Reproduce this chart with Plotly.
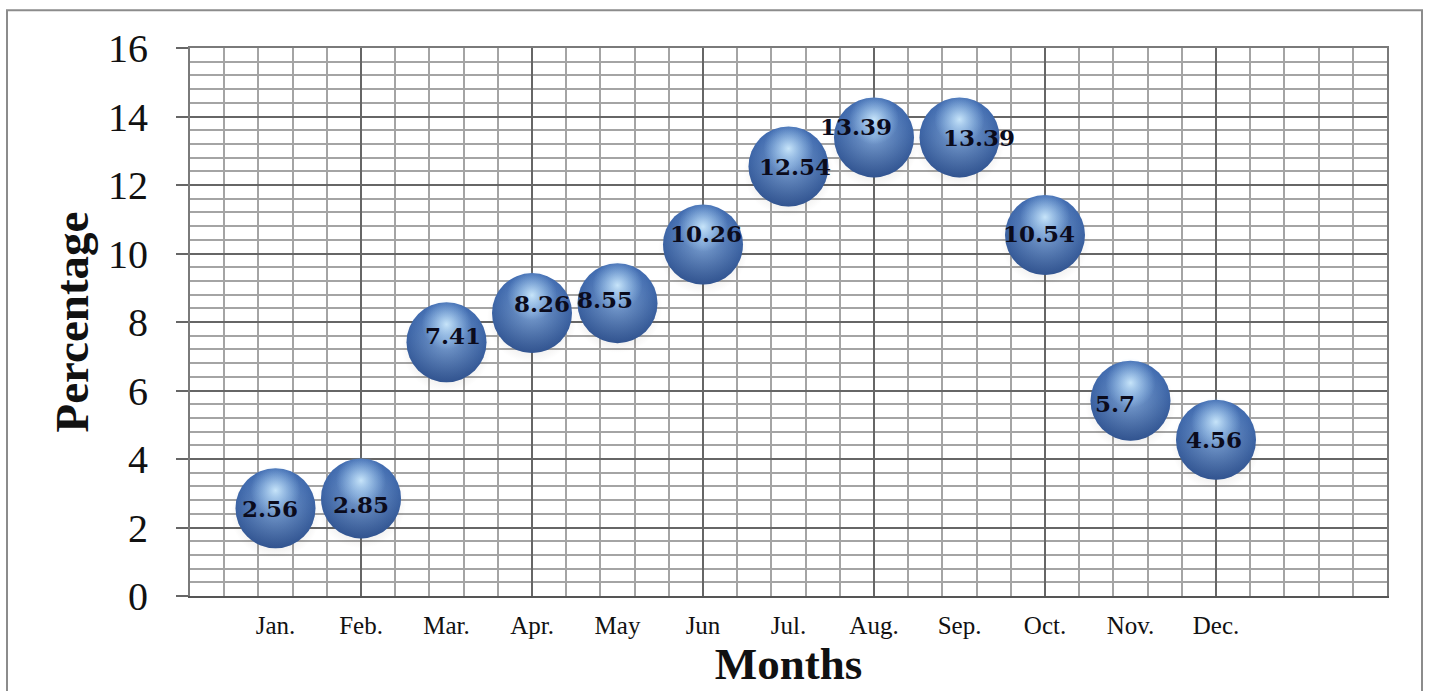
import plotly.graph_objects as go

# Monthly share (%) with month labels
months = ["Jan.", "Feb.", "Mar.", "Apr.", "May", "Jun", "Jul.", "Aug.", "Sep.", "Oct.", "Nov.", "Dec."]
month_pos = list(range(1, 13))
percentage = [2.56, 2.85, 7.41, 8.26, 8.55, 10.26, 12.54, 13.39, 13.39, 10.54, 5.7, 4.56]

# small pixel nudges for the value text (dx, dy)
label_nudge = [(-6, 0), (0, -6), (6, 7), (10, 10), (-13, 4), (3, 11),
               (6, 0), (-18, 11), (19, 0), (-6, 2), (-16, -3), (-2, 0)]

W, H = 1429, 691
M_L, M_R, M_T, M_B = 190, 42, 48, 91
PLOT_W = W - M_L - M_R
PLOT_H = H - M_T - M_B
Y_MAX = 16
UNIT_PER_PX = Y_MAX / PLOT_H
BALL = 80

fig = go.Figure()

# soft drop shadow under each ball
fig.add_trace(go.Scatter(
    x=month_pos, y=[v - 5 * UNIT_PER_PX for v in percentage], mode="markers",
    marker=dict(size=BALL + 10, color="rgba(70,60,50,0)", line=dict(width=0),
                gradient=dict(type="radial", color="rgba(60,50,40,0.3)")),
    hoverinfo="skip", showlegend=False))

# sphere body
fig.add_trace(go.Scatter(
    x=month_pos, y=percentage, mode="markers",
    marker=dict(size=BALL, color="#426db2", line=dict(width=0),
                gradient=dict(type="radial", color="#8db6ea")),
    hovertemplate="%{x}: %{y}%<extra></extra>", showlegend=False))

# darker lower half
fig.add_trace(go.Scatter(
    x=month_pos, y=percentage, mode="markers",
    marker=dict(size=BALL, color="rgba(20,40,80,0)", line=dict(width=0),
                gradient=dict(type="vertical", color="rgba(15,30,70,0.32)")),
    hoverinfo="skip", showlegend=False))

# specular highlight near the top
fig.add_trace(go.Scatter(
    x=month_pos, y=[v + 18 * UNIT_PER_PX for v in percentage], mode="markers",
    marker=dict(size=50, color="rgba(160,205,245,0)", line=dict(width=0),
                gradient=dict(type="radial", color="rgba(210,238,255,0.9)")),
    hoverinfo="skip", showlegend=False))

# carrier for the grid axis
fig.add_trace(go.Scatter(x=[None], y=[None], xaxis="x2", yaxis="y",
                         mode="markers", hoverinfo="skip", showlegend=False))

# value labels
for m, v, (dx, dy) in zip(month_pos, percentage, label_nudge):
    fig.add_annotation(x=m, y=v, text=str(v), showarrow=False,
                       xshift=dx, yshift=dy,
                       font=dict(family="DejaVu Serif", size=23, color="#0b0b1c",
                                 weight="bold"))

MAJOR = "#666666"
MINOR = "#a4a4a4"

fig.update_layout(
    width=W, height=H,
    margin=dict(l=M_L, r=M_R, t=M_T, b=M_B),
    paper_bgcolor="white", plot_bgcolor="white",
    showlegend=False,
    xaxis=dict(
        range=[0, 14], tickmode="array", tickvals=month_pos, ticktext=months,
        showgrid=False, zeroline=False, showline=True, linecolor="#555555",
        linewidth=2, ticks="", ticklabelstandoff=6,
        tickfont=dict(family="Liberation Serif", size=25, color="#111111"),
        title=dict(text="Months", standoff=8,
                   font=dict(family="Liberation Serif", size=45, color="#111111",
                             weight="bold")),
    ),
    xaxis2=dict(
        overlaying="x", side="top", range=[0, 14],
        tickmode="linear", tick0=0, dtick=2,
        showgrid=True, gridcolor=MAJOR, gridwidth=2,
        minor=dict(tick0=0, dtick=0.4, showgrid=True, gridcolor=MINOR, gridwidth=1.6),
        showticklabels=False, ticks="", zeroline=False,
        showline=True, linecolor="#7a7a7a", linewidth=2,
    ),
    yaxis=dict(
        range=[0, Y_MAX], tickmode="linear", tick0=0, dtick=2,
        showgrid=True, gridcolor=MAJOR, gridwidth=2,
        minor=dict(tick0=0, dtick=0.4, showgrid=True, gridcolor=MINOR, gridwidth=1.6),
        ticks="outside", ticklen=12, tickwidth=2, tickcolor=MAJOR,
        showline=True, linecolor="#7a7a7a", linewidth=2, mirror=True,
        zeroline=False, ticklabelstandoff=20,
        tickfont=dict(family="Liberation Serif", size=40, color="#111111"),
        title=dict(text="Percentage", standoff=5,
                   font=dict(family="Liberation Serif", size=47, color="#111111",
                             weight="bold")),
    ),
    shapes=[dict(
        type="rect", xref="paper", yref="paper", layer="above",
        x0=(7 - M_L) / PLOT_W, x1=(1422 - M_L) / PLOT_W,
        y0=-0.4, y1=(PLOT_H + M_T - 10) / PLOT_H,
        line=dict(color="#8c8c8c", width=2), fillcolor="rgba(0,0,0,0)",
    )],
)

fig.write_html("out.html")
